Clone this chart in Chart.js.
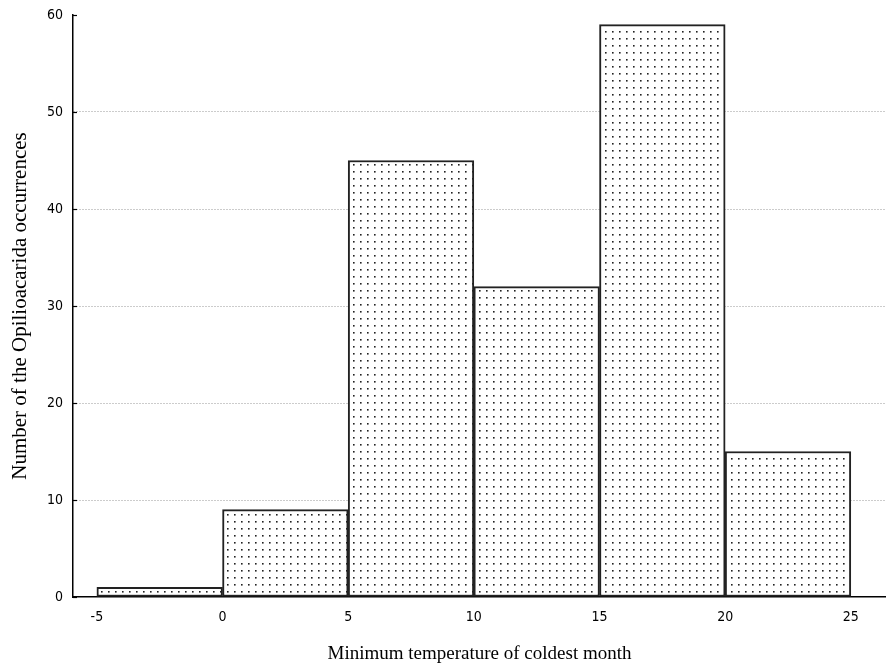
<!DOCTYPE html>
<html>
<head>
<meta charset="utf-8">
<script src="https://cdn.jsdelivr.net/npm/chart.js@4/dist/chart.umd.min.js"></script>
<style>
  html, body { margin: 0; padding: 0; background: #fff; }
  #wrap { width: 886px; height: 669px; }
</style>
</head>
<body>
<div id="wrap"><canvas id="chart"></canvas></div>
<script>
// bin centres (minimum temperature, bins of width 5)
const binCenters = [-2.5, 2.5, 7.5, 12.5, 17.5, 22.5];
const occurrences = [1, 9, 45, 32, 59, 15];
const xTicks = [-5, 0, 5, 10, 15, 20, 25];
const yTicks = [0, 10, 20, 30, 40, 50, 60];

// dotted fill, like the original stippled bars
function dotPattern() {
  const c = document.createElement('canvas');
  c.width = 7;
  c.height = 7;
  const g = c.getContext('2d');
  g.fillStyle = '#fff';
  g.fillRect(0, 0, 7, 7);
  g.fillStyle = '#222';
  g.fillRect(3, 3, 1.6, 1.6);
  return g.createPattern(c, 'repeat');
}

// short inward tick marks on the y axis
const innerTicks = {
  id: 'innerTicks',
  afterDatasetsDraw(chart) {
    const { ctx, scales } = chart;
    const y = scales.y;
    ctx.save();
    ctx.strokeStyle = '#000';
    ctx.lineWidth = 1.2;
    yTicks.forEach((v) => {
      const py = Math.round(y.getPixelForValue(v)) + 0.5;
      ctx.beginPath();
      ctx.moveTo(y.right, py);
      ctx.lineTo(y.right + 4, py);
      ctx.stroke();
    });
    ctx.restore();
  },
};

const tickFont = { family: 'DejaVu Sans Condensed', size: 14 };

const ctx = document.getElementById('chart').getContext('2d');
new Chart(ctx, {
  type: 'bar',
  data: {
    datasets: [
      {
        data: binCenters.map((x, i) => ({ x, y: occurrences[i] })),
        backgroundColor: dotPattern(),
        borderColor: '#222',
        borderWidth: 2,
        borderSkipped: false,
        barPercentage: 1,
        categoryPercentage: 1,
      },
    ],
  },
  options: {
    responsive: true,
    maintainAspectRatio: false,
    animation: false,
    layout: { padding: { top: 15, right: 0, left: 0, bottom: 0 } },
    plugins: { legend: { display: false }, tooltip: { enabled: false } },
    scales: {
      x: {
        type: 'linear',
        offset: false,
        min: -5.95,
        max: 26.4,
        afterBuildTicks: (scale) => {
          scale.ticks = xTicks.map((v) => ({ value: v }));
        },
        afterFit: (scale) => { scale.height = 72; },
        grid: { display: false, drawTicks: false },
        border: { display: true, color: '#000', width: 1.5 },
        ticks: {
          color: '#000',
          padding: 12,
          maxRotation: 0,
          font: tickFont,
        },
        title: {
          display: true,
          text: 'Minimum temperature of coldest month',
          color: '#000',
          padding: { top: 10 },
          font: { family: 'Liberation Serif', size: 19 },
        },
      },
      y: {
        min: 0,
        max: 60,
        afterBuildTicks: (scale) => {
          scale.ticks = yTicks.map((v) => ({ value: v }));
        },
        afterFit: (scale) => {
          scale.width = 73;
          scale.paddingTop = 0;
          scale.paddingBottom = 0;
        },
        grid: {
          drawTicks: false,
          color: (c) => (c.tick && (c.tick.value === 0 || c.tick.value === 60) ? 'rgba(0,0,0,0)' : '#999'),
          lineWidth: 1,
        },
        border: { display: true, color: '#000', width: 1.5, dash: [1, 2] },
        ticks: {
          color: '#000',
          padding: 10,
          font: tickFont,
        },
        title: {
          display: true,
          text: 'Number of the Opilioacarida occurrences',
          color: '#000',
          padding: { top: 8 },
          font: { family: 'Liberation Serif', size: 21 },
        },
      },
    },
  },
  plugins: [innerTicks],
});
</script>
</body>
</html>
